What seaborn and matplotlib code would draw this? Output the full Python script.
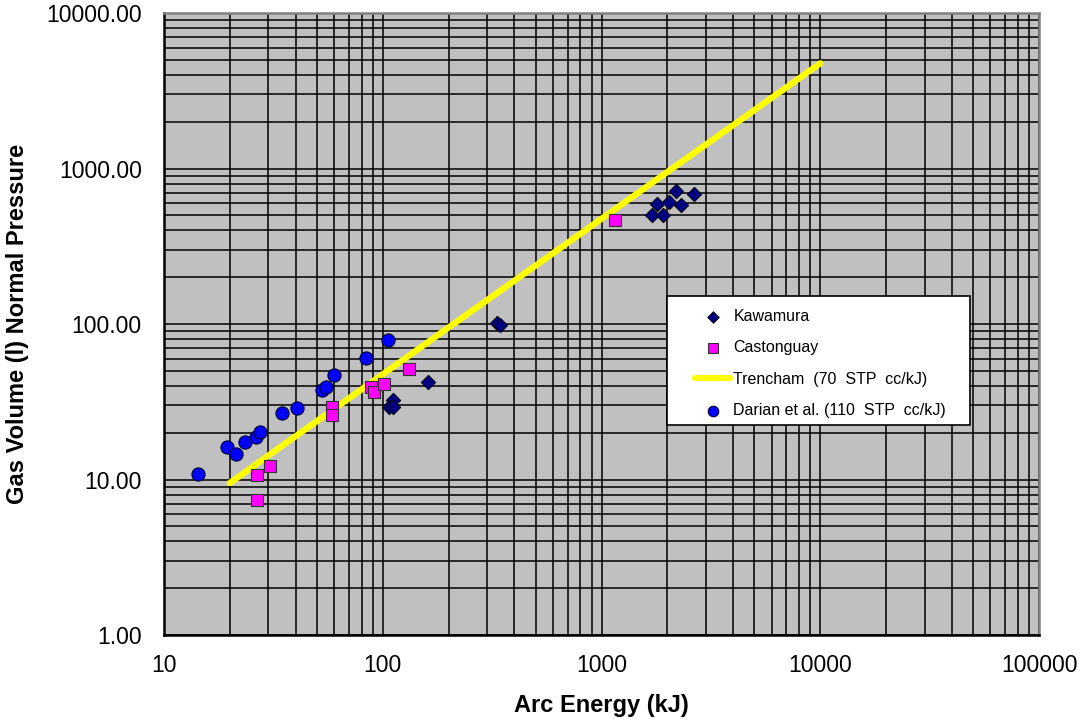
import matplotlib
matplotlib.use("Agg")
import matplotlib.pyplot as plt
import numpy as np
import pandas as pd
import seaborn as sns
from matplotlib.ticker import LogLocator, FixedLocator, FixedFormatter, NullFormatter
from matplotlib.patches import Rectangle

# Measured series: arc energy (kJ) vs gas volume at normal pressure (l)
kawamura_energy = [161.7, 111.4, 106.5, 111.4, 332.6, 342, 2200, 2640, 1802, 2045, 2301, 1697, 1906]
kawamura_volume = [42.2, 32.5, 29.4, 29.1, 102, 98.1, 716, 689, 591, 606, 585, 502, 500]

castonguay_energy = [26.5, 30.6, 26.5, 58.9, 58.9, 88.1, 91.3, 101.4, 131.8, 1155]
castonguay_volume = [10.7, 12.3, 7.38, 29.1, 26.0, 39.5, 36.7, 40.9, 51.1, 466]

darian_energy = [14.35, 19.4, 21.4, 23.5, 26.4, 27.5, 34.7, 40.6, 52.8, 54.9, 59.7, 83.9, 106.2]
darian_volume = [10.8, 16.1, 14.7, 17.4, 18.7, 20.1, 26.8, 28.8, 37.5, 39.5, 47.0, 60.2, 78.9]

# Trencham relation (70 STP cc/kJ)
trencham_energy = [20, 10000]
trencham_volume = [9.5, 4750]

x_ticks = [10, 100, 1000, 10000, 100000]
x_tick_labels = ["10", "100", "1000", "10000", "100000"]
y_ticks = [1, 10, 100, 1000, 10000]
y_tick_labels = ["1.00", "10.00", "100.00", "1000.00", "10000.00"]

sns.set_style("white")
plt.rcParams["font.family"] = ["Liberation Sans", "DejaVu Sans"]
plt.rcParams["text.color"] = "black"
plt.rcParams["axes.labelcolor"] = "black"
plt.rcParams["xtick.color"] = "black"
plt.rcParams["ytick.color"] = "black"

fig = plt.figure(figsize=(10.84, 7.24), dpi=100)
ax = fig.add_axes([0.1513, 0.1229, 0.8072, 0.8591])
ax.set_facecolor("#C0C0C0")

ax.set_xscale("log")
ax.set_yscale("log")
ax.set_xlim(10, 100000)
ax.set_ylim(1, 10000)

sns.lineplot(x=trencham_energy, y=trencham_volume, ax=ax, color="#FFFF00",
             linewidth=4.5, sort=False, label="Trencham  (70  STP  cc/kJ)", zorder=3)
sns.scatterplot(x=kawamura_energy, y=kawamura_volume, ax=ax, marker="D", s=55,
                color="#000080", edgecolor="black", linewidth=0.6,
                label="Kawamura", zorder=4)
sns.scatterplot(x=castonguay_energy, y=castonguay_volume, ax=ax, marker="s", s=75,
                color="#FF00FF", edgecolor="#333333", linewidth=0.8,
                label="Castonguay", zorder=4)
sns.scatterplot(x=darian_energy, y=darian_volume, ax=ax, marker="o", s=90,
                color="#0000FF", edgecolor="#000033", linewidth=0.8,
                label="Darian et al. (110  STP  cc/kJ)", zorder=4)

# Grid on every decade and sub-decade line
for axis in (ax.xaxis, ax.yaxis):
    axis.set_minor_locator(LogLocator(base=10, subs=np.arange(2, 10)))
    axis.set_minor_formatter(NullFormatter())
ax.xaxis.set_major_locator(FixedLocator(x_ticks))
ax.xaxis.set_major_formatter(FixedFormatter(x_tick_labels))
ax.yaxis.set_major_locator(FixedLocator(y_ticks))
ax.yaxis.set_major_formatter(FixedFormatter(y_tick_labels))
ax.grid(which="both", color="black", linewidth=1.1, zorder=1)
ax.set_axisbelow(True)

ax.tick_params(which="both", direction="in", length=5, width=1.5, color="black")
ax.tick_params(axis="x", which="major", labelsize=16.5, pad=14, labelcolor="black")
ax.tick_params(axis="y", which="major", labelsize=16.5, pad=16, labelcolor="black")

for side in ("left", "bottom"):
    ax.spines[side].set_color("black")
    ax.spines[side].set_linewidth(1.8)
for side in ("top", "right"):
    ax.spines[side].set_color("#808080")
    ax.spines[side].set_linewidth(1.8)

ax.set_xlabel("Arc Energy (kJ)", fontsize=17, fontweight="bold", labelpad=12, color="black")
ax.set_ylabel("Gas Volume (l) Normal Pressure", fontsize=17, fontweight="bold",
              labelpad=12, color="black")

# Legend box and entries
handles, labels = ax.get_legend_handles_labels()
ax.get_legend().remove()
order = ["Kawamura", "Castonguay", "Trencham  (70  STP  cc/kJ)", "Darian et al. (110  STP  cc/kJ)"]
lookup = dict(zip(labels, handles))
box = Rectangle((667 / 1084, 1 - 425 / 724), (970 - 667) / 1084, (425 - 296) / 724,
                transform=fig.transFigure, facecolor="white", edgecolor="black",
                linewidth=1.2, zorder=6)
ax.add_patch(box)
box.set_clip_on(False)
leg = fig.legend([lookup[k] for k in order], order, loc="upper left",
                 bbox_to_anchor=(687 / 1084, 1 - 301 / 724), frameon=False,
                 fontsize=11.5, borderpad=0, handlelength=2.2, handletextpad=0.2,
                 labelspacing=1.02, markerscale=0.8)
leg.set_zorder(10)
for t in leg.get_texts():
    t.set_color("black")

fig.savefig("out.png", dpi=100)
